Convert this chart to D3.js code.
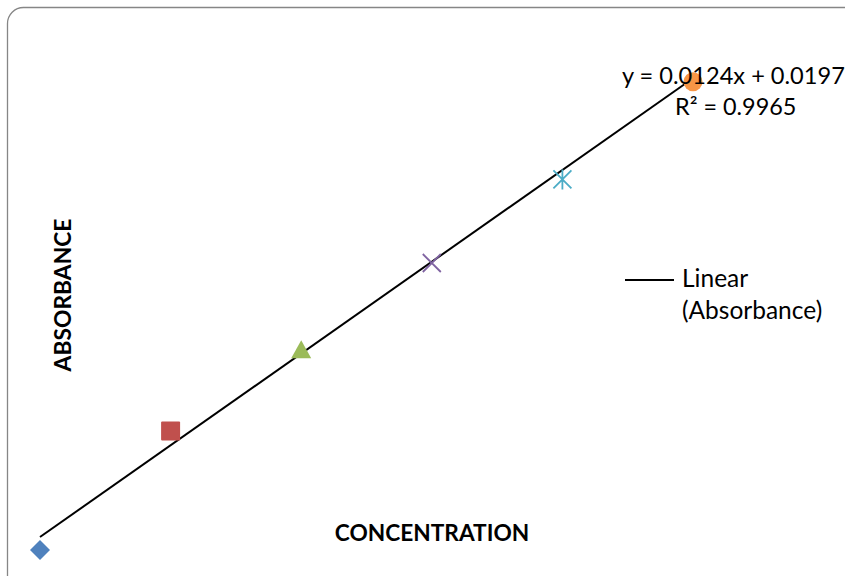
<!DOCTYPE html>
<html><head><meta charset="utf-8">
<script src="https://cdn.jsdelivr.net/npm/d3@7"></script>
<style>html,body{margin:0;padding:0;background:#fff;}svg{display:block;font-family:Lato,"Open Sans",sans-serif;}</style>
</head><body>
<svg id="chart" width="845" height="576"></svg>
<script>
const concentration = [0, 10, 20, 30, 40, 50];
const absorbance = [0.002, 0.163, 0.272, 0.390, 0.503, 0.635];
const markerShapes = ["diamond", "square", "triangle", "x", "star", "circle"];
const markerColors = ["#4F81BD", "#C0504D", "#9BBB59", "#8064A2", "#4BACC6", "#F79646"];
const trendSlope = 0.0124, trendIntercept = 0.0197, rSquared = 0.9965;
const xTitle = "CONCENTRATION", yTitle = "ABSORBANCE";
const legendLines = ["Linear", "(Absorbance)"];

const svg = d3.select("#chart");
svg.append("rect").attr("x", 7.5).attr("y", 7.5).attr("width", 860).attr("height", 590)
  .attr("rx", 16).attr("fill", "#fff").attr("stroke", "#868686").attr("stroke-width", 1.3);

const x = d3.scaleLinear().domain([0, 50]).range([40, 693]);
const y = d3.scaleLinear().domain([0, 0.7]).range([551.6, 33.6]);

// trendline
svg.append("line")
  .attr("x1", x(0)).attr("y1", y(trendIntercept))
  .attr("x2", x(50)).attr("y2", y(trendIntercept + trendSlope * 50))
  .attr("stroke", "#000").attr("stroke-width", 2);

const g = svg.append("g");
concentration.forEach((c, i) => {
  const cx = x(c), cy = y(absorbance[i]), col = markerColors[i], s = markerShapes[i];
  const p = g.append("g").attr("transform", `translate(${cx},${cy})`);
  if (s === "diamond") p.append("path").attr("d", "M0,-10L10,0L0,10L-10,0Z").attr("fill", col);
  else if (s === "square") p.append("rect").attr("x", -9.5).attr("y", -9.5).attr("width", 19).attr("height", 19).attr("rx", 1).attr("fill", col);
  else if (s === "triangle") p.append("path").attr("d", "M0,-10L10,8L-10,8Z").attr("fill", col);
  else if (s === "x") p.append("path").attr("d", "M-9,-9L9,9M-9,9L9,-9").attr("stroke", col).attr("stroke-width", 1.8);
  else if (s === "star") p.append("path").attr("d", "M-9,-9L9,9M-9,9L9,-9M0,-10L0,10").attr("stroke", col).attr("stroke-width", 1.8);
  else if (s === "circle") p.append("circle").attr("r", 9.5).attr("fill", col);
});

// equation
svg.append("text").attr("x", 622).attr("y", 84).attr("font-size", 23.6).attr("fill", "#000")
  .text(`y = ${trendSlope}x + ${trendIntercept}`);
svg.append("text").attr("x", 675).attr("y", 115).attr("font-size", 23.4).attr("fill", "#000")
  .text(`R² = ${rSquared}`);

// legend
svg.append("line").attr("x1", 625).attr("x2", 674).attr("y1", 280).attr("y2", 280)
  .attr("stroke", "#000").attr("stroke-width", 2);
legendLines.forEach((t, i) => {
  svg.append("text").attr("x", 682).attr("y", 287 + i * 32).attr("font-size", 24.5).attr("fill", "#000").text(t);
});

// axis titles
svg.append("text").attr("x", 432).attr("y", 541).attr("text-anchor", "middle")
  .attr("font-size", 22.7).attr("font-weight", "bold").text(xTitle);
svg.append("text").attr("transform", "translate(71,295) rotate(-90)").attr("text-anchor", "middle")
  .attr("font-size", 22.8).attr("font-weight", "bold").text(yTitle);
</script>
</body></html>
